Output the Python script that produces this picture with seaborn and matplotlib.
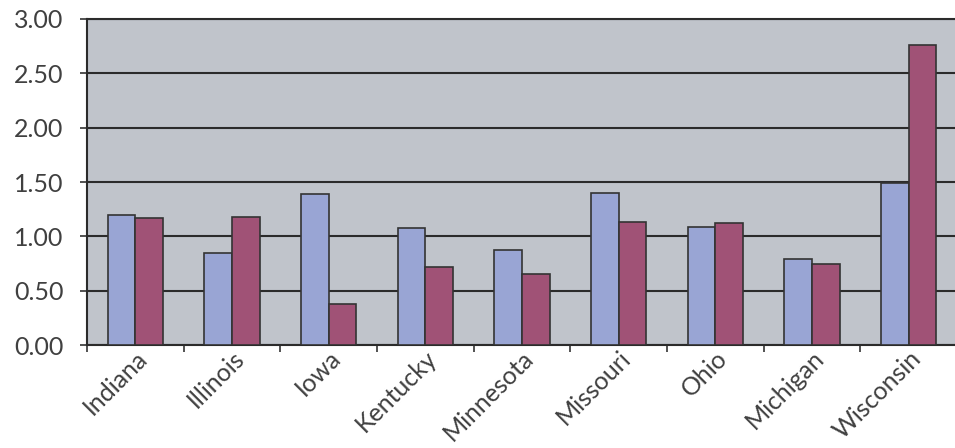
import pandas as pd
import matplotlib
matplotlib.use('Agg')
import matplotlib.pyplot as plt
import seaborn as sns

# data
states = ['Indiana', 'Illinois', 'Iowa', 'Kentucky', 'Minnesota',
          'Missouri', 'Ohio', 'Michigan', 'Wisconsin']
series1 = [1.20, 0.85, 1.39, 1.08, 0.87, 1.40, 1.09, 0.79, 1.49]
series2 = [1.17, 1.18, 0.38, 0.72, 0.65, 1.13, 1.12, 0.75, 2.76]
y_ticks = [0.0, 0.5, 1.0, 1.5, 2.0, 2.5, 3.0]

df = pd.DataFrame({
    'State': states * 2,
    'Value': series1 + series2,
    'Series': ['Series 1'] * len(states) + ['Series 2'] * len(states),
})

sns.set_theme(style='white')
plt.rcParams['font.family'] = ['Lato', 'DejaVu Sans']

fig = plt.figure(figsize=(9.55, 4.48), dpi=100)
ax = fig.add_axes([87 / 955, 103 / 448, 870 / 955, 326 / 448])
ax.set_facecolor('#c0c4cb')

sns.barplot(data=df, x='State', y='Value', hue='Series', order=states,
            palette=['#99a5d4', '#a05276'], saturation=1, width=0.57, gap=0,
            edgecolor='#333333', linewidth=1.2, legend=False, ax=ax, zorder=3)

ax.set_ylim(0, 3.0)
ax.set_xlim(-0.5, len(states) - 0.5)
ax.set_yticks(y_ticks)
ax.set_yticklabels([f'{v:.2f}' for v in y_ticks], fontsize=18, color='#404040')
for v in y_ticks:
    ax.axhline(v, color='#2b2b2b', lw=1.5, zorder=1)

# ticks between categories, labels at category centres
ax.set_xticks([i - 0.5 for i in range(len(states) + 1)])
ax.set_xticklabels([])
ax.set_xticks(range(len(states)), minor=True)
ax.set_xticklabels(states, minor=True, rotation=45, ha='right', va='top',
                   rotation_mode='anchor', fontsize=18, color='#404040')
ax.tick_params(axis='x', which='minor', length=0, pad=1)
ax.tick_params(axis='x', which='major', length=5, width=1.2, color='#333333',
               direction='out', bottom=True)
ax.tick_params(axis='y', length=5, width=1.2, color='#333333', direction='out',
               left=True, pad=12)

ax.set_xlabel('')
ax.set_ylabel('')
ax.spines['right'].set_visible(False)
for side in ['left', 'bottom', 'top']:
    ax.spines[side].set_color('#2b2b2b')
    ax.spines[side].set_linewidth(1.5)

plt.savefig('out.png', dpi=100)
